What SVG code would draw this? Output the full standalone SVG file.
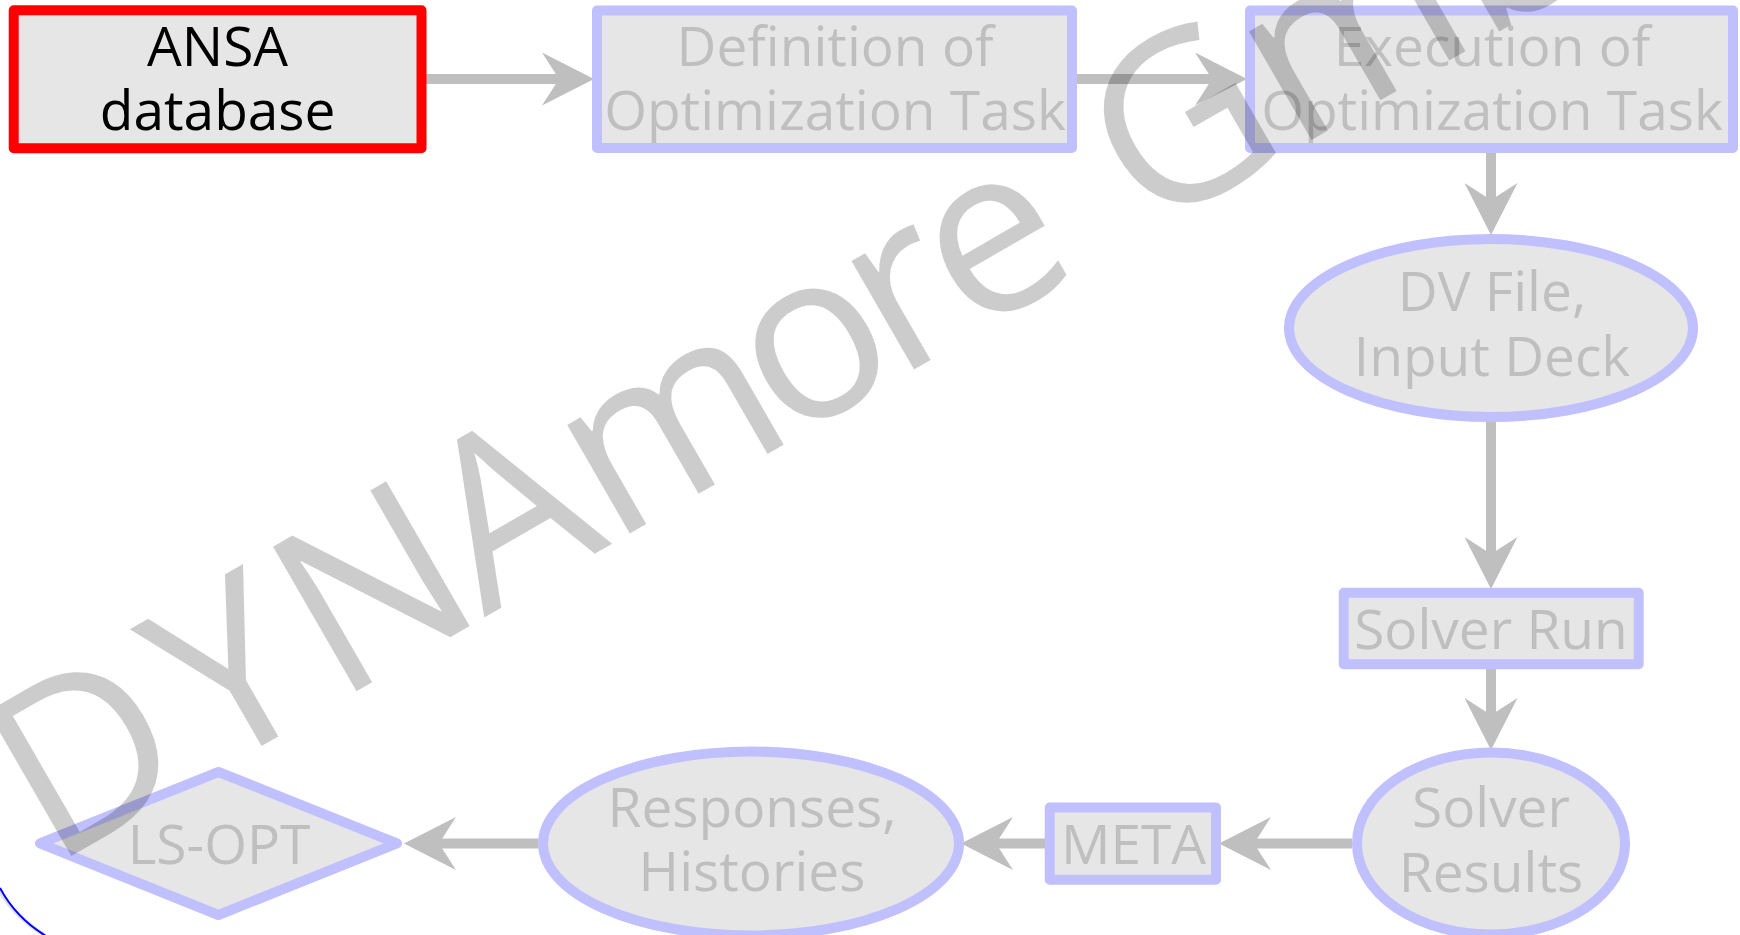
<svg xmlns="http://www.w3.org/2000/svg" width="1740" height="935" viewBox="0 0 1740 935">
<defs>
<style>
.box{fill:#E6E6E6;stroke:#C0C0FF;stroke-width:10;stroke-linejoin:round}
.red{fill:#E6E6E6;stroke:#FF0000;stroke-width:10;stroke-linejoin:round}
.t{font-family:"Open Sans","Noto Sans","Liberation Sans",sans-serif;font-size:55px;fill:#BFBFBF;text-anchor:middle}
.tb{fill:#000000}
.c{stroke:#BFBFBF;stroke-width:10;fill:none;marker-end:url(#ah)}
.wm{font-family:"Open Sans","Noto Sans","Liberation Sans",sans-serif;font-size:234px;fill:#000000;fill-opacity:0.2}
</style>
<marker id="ah" viewBox="0 0 52 53" markerWidth="52" markerHeight="53" refX="17" refY="26.5" orient="auto" markerUnits="userSpaceOnUse">
<path d="M0,0 L52,26.5 L0,53 L17,26.5 Z" fill="#BFBFBF"/>
</marker>
</defs>
<rect width="1740" height="935" fill="#FFFFFF"/>
<g id="connectors">
<line class="c" x1="426" y1="79" x2="559" y2="79"/>
<line class="c" x1="1076" y1="79" x2="1212" y2="79"/>
<line class="c" x1="1491" y1="153" x2="1491" y2="200"/>
<line class="c" x1="1491" y1="421" x2="1491" y2="554"/>
<line class="c" x1="1491" y1="669" x2="1491" y2="715"/>
<line class="c" x1="1352" y1="843.5" x2="1254" y2="843.5"/>
<line class="c" x1="1045" y1="843.5" x2="996" y2="843.5"/>
<line class="c" x1="538" y1="843.5" x2="439" y2="843.5"/>
</g>
<g id="ansa">
<rect class="red" x="13.7" y="10.3" width="407.8" height="138"/>
<text class="t tb" x="217.6" y="65.7">ANSA</text>
<text class="t tb" x="217.6" y="130">database</text>
</g>
<g id="definition">
<rect class="box" x="597" y="10.5" width="475" height="137.5"/>
<text class="t" x="835" y="65.7">Definition of</text>
<text class="t" x="835" y="130">Optimization Task</text>
</g>
<g id="execution">
<rect class="box" x="1250" y="10.5" width="483" height="137.5"/>
<text class="t" x="1492" y="65.7">Execution of</text>
<text class="t" x="1492" y="130">Optimization Task</text>
</g>
<g id="dvfile">
<ellipse class="box" cx="1491" cy="328" rx="202" ry="89"/>
<text class="t" x="1492" y="311">DV File,</text>
<text class="t" x="1492" y="376">Input Deck</text>
</g>
<g id="solverrun">
<rect class="box" x="1343.7" y="592.7" width="295" height="71.6"/>
<text class="t" x="1491" y="649.3">Solver Run</text>
</g>
<g id="solverresults">
<ellipse class="box" cx="1491" cy="843.5" rx="134" ry="91"/>
<text class="t" x="1491" y="826.7">Solver</text>
<text class="t" x="1491" y="891.7">Results</text>
</g>
<g id="meta">
<rect class="box" x="1049.7" y="807.5" width="166.3" height="72.2"/>
<text class="t" x="1133.5" y="864">META</text>
</g>
<g id="responses">
<ellipse class="box" cx="751" cy="843.5" rx="208" ry="92"/>
<text class="t" x="752" y="827.3">Responses,</text>
<text class="t" x="752" y="890.7">Histories</text>
</g>
<g id="lsopt">
<polygon class="box" points="40,843.3 218.5,772 397,843.3 218.5,915"/>
<text class="t" x="219" y="864">LS-OPT</text>
</g>
<path d="M-3,886 Q13,916 43,934" fill="none" stroke="#000000" stroke-opacity="0.12" stroke-width="4"/>
<path d="M0,888 Q16,918 46,936" fill="none" stroke="#0000FF" stroke-width="2"/>
<text class="wm" transform="translate(51.4,867.5) rotate(-30)" dx="0 17 12 -6 0 -15 -14 -10 11 0 0 0 0">DYNAmore GmbH</text>
</svg>
